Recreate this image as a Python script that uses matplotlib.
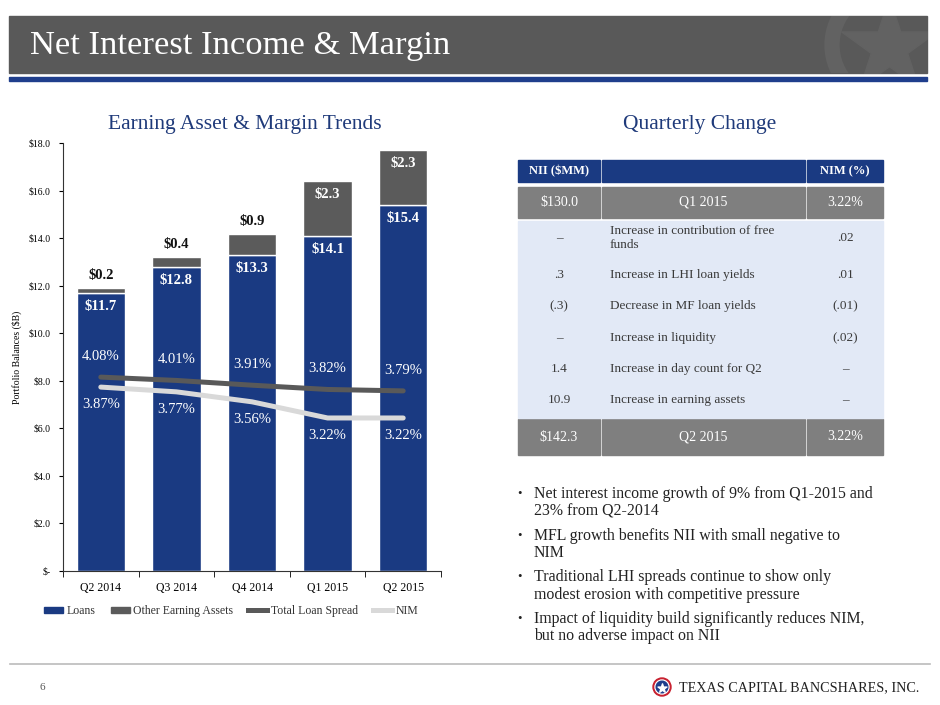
import matplotlib
matplotlib.use("Agg")
import matplotlib.pyplot as plt
from matplotlib.patches import Rectangle, Circle
from matplotlib.lines import Line2D
import numpy as np

plt.rcParams['font.family'] = ['Liberation Serif', 'DejaVu Serif']

# chart data
quarters = ['Q2 2014', 'Q3 2014', 'Q4 2014', 'Q1 2015', 'Q2 2015']
loans = [11.7, 12.8, 13.3, 14.1, 15.4]
other_assets = [0.2, 0.4, 0.9, 2.3, 2.3]
loan_spread = [4.08, 4.01, 3.91, 3.82, 3.79]
nim = [3.87, 3.77, 3.56, 3.22, 3.22]
y_ticks = [0, 2, 4, 6, 8, 10, 12, 14, 16, 18]

# table data
table_header = ['NII ($MM)', '', 'NIM (%)']
start_row = ['$130.0', 'Q1 2015', '3.22%']
end_row = ['$142.3', 'Q2 2015', '3.22%']
nii_changes = ['–', '.3', '(.3)', '–', '1.4', '10.9']
drivers = ['Increase in contribution of free\nfunds', 'Increase in LHI loan yields',
           'Decrease in MF loan yields', 'Increase in liquidity',
           'Increase in day count for Q2', 'Increase in earning assets']
nim_changes = ['.02', '.01', '(.01)', '(.02)', '–', '–']

bullets = ['Net interest income growth of 9% from Q1-2015 and\n23% from Q2-2014',
           'MFL growth benefits NII with small negative to\nNIM',
           'Traditional LHI spreads continue to show only\nmodest erosion with competitive pressure',
           'Impact of liquidity build significantly reduces NIM,\nbut no adverse impact on NII']

BLUE = '#1A3A82'
GRAY = '#5B5B5B'
TITLE_BLUE = '#1F3A7A'
W, H = 940, 705

fig = plt.figure(figsize=(9.4, 7.05), dpi=100)

# background canvas in pixel coordinates
bg = fig.add_axes([0, 0, 1, 1])
bg.set_xlim(0, W)
bg.set_ylim(H, 0)
bg.axis('off')

# title bar
bar = Rectangle((9, 16), 918, 57, color='#595959', zorder=1)
bg.add_patch(bar)
ring = Circle((888, 45), 56, fill=False, lw=11, edgecolor='#626262', zorder=2)
bg.add_patch(ring)
ring.set_clip_path(bar)
star = bg.scatter([889], [47], marker='*', s=5200, color='#626262', zorder=2)
star.set_clip_path(bar)
bg.add_patch(Rectangle((9, 77), 918, 4, color='#1F3E8C', zorder=1))
bg.text(30, 46, 'Net Interest Income & Margin', color='white', fontsize=24.8,
        va='center', ha='left', zorder=3)

bg.text(245, 125, 'Earning Asset & Margin Trends', color=TITLE_BLUE, fontsize=15.5,
        ha='center', va='center')
bg.text(700, 125, 'Quarterly Change', color=TITLE_BLUE, fontsize=15.5,
        ha='center', va='center')

# table
cols = [(518, 600), (602, 805), (807, 883)]
for (x0, x1), txt in zip(cols, table_header):
    bg.add_patch(Rectangle((x0, 160), x1 - x0, 22, color=BLUE))
    bg.text((x0 + x1) / 2, 171, txt, color='white', fontsize=9, fontweight='bold',
            ha='center', va='center')
for ytop, ybot, row in [(187, 218, start_row), (419, 455, end_row)]:
    for (x0, x1), txt in zip(cols, row):
        bg.add_patch(Rectangle((x0, ytop), x1 - x0, ybot - ytop, color='#7F7F7F'))
        bg.text((x0 + x1) / 2, (ytop + ybot) / 2, txt, color='white', fontsize=10,
                ha='center', va='center')
bg.add_patch(Rectangle((518, 221), 365, 197, color='#E2E9F6'))
row_y = [238, 275, 306.5, 338, 369, 400]
for yc, a, b, c in zip(row_y, nii_changes, drivers, nim_changes):
    bg.text(559, yc, a, color='#3A3A3A', fontsize=9.5, ha='center', va='center')
    bg.text(610, yc, b, color='#3A3A3A', fontsize=9.5, ha='left', va='center',
            linespacing=1.15)
    bg.text(845, yc, c, color='#3A3A3A', fontsize=9.5, ha='center', va='center')

# bullets
by = 503
for b in bullets:
    bg.text(519, by - 9, '•', fontsize=9, color='#222222', ha='center', va='center')
    bg.text(534, by, b, fontsize=11.4, color='#222222', ha='left', va='center',
            linespacing=1.12)
    by += 41.5

# footer
bg.plot([10, 930], [664, 664], color='#BBBBBB', lw=1.2)
bg.text(40, 688, '6', fontsize=8, color='#555555', va='center')
bg.add_patch(Circle((662, 687), 9, color='#C8202F'))
bg.add_patch(Circle((662, 687), 7, color='white'))
bg.add_patch(Circle((662, 687), 5.8, color='#1F3E8C'))
bg.scatter([662], [687.5], marker='*', s=45, color='white', zorder=5)
bg.text(679, 688, 'TEXAS CAPITAL BANCSHARES, INC.', fontsize=10.2, color='#222222',
        va='center', ha='left')

# chart
ax = fig.add_axes([63 / W, 134 / H, 378 / W, 427.7 / H])
x = np.arange(len(quarters))
ax.bar(x, loans, width=0.64, color=BLUE, edgecolor='white', linewidth=1, zorder=2)
ax.bar(x, other_assets, bottom=loans, width=0.64, color=GRAY, edgecolor='white',
       linewidth=1, zorder=2)
ax.set_xlim(-0.5, len(quarters) - 0.5)
ax.set_ylim(0, 18)
ax.set_yticks(y_ticks)
ax.set_yticklabels(['$-' if v == 0 else f'${v:.1f}' for v in y_ticks], fontsize=7)
ax.set_xticks(x)
ax.set_xticklabels(quarters, fontsize=8.5)
ax.set_xticks(np.arange(-0.5, len(quarters)), minor=True)
ax.tick_params(axis='x', which='major', length=0, pad=8)
ax.tick_params(axis='x', which='minor', length=4, direction='out')
ax.tick_params(axis='y', length=3, direction='out', pad=6)
for s in ['top', 'right']:
    ax.spines[s].set_visible(False)
ax.spines['left'].set_color('#333333')
ax.spines['bottom'].set_color('#333333')
ax.set_ylabel('Portfolio Balances ($B)', fontsize=7)
ax.yaxis.set_label_coords(-0.108, 0.5)

for i in range(len(quarters)):
    ax.annotate(f'${loans[i]:.1f}', (x[i], loans[i]), xytext=(0, -10),
                textcoords='offset points', ha='center', va='center',
                color='white', fontsize=10.5, fontweight='bold', zorder=4)
    top = loans[i] + other_assets[i]
    if other_assets[i] >= 1.0:
        ax.annotate(f'${other_assets[i]:.1f}', (x[i], top), xytext=(0, -9.5),
                    textcoords='offset points', ha='center', va='center',
                    color='white', fontsize=10.5, fontweight='bold', zorder=4)
    else:
        ax.annotate(f'${other_assets[i]:.1f}', (x[i], top), xytext=(0, 9),
                    textcoords='offset points', ha='center', va='center',
                    color='#111111', fontsize=10.5, fontweight='bold', zorder=4)

ax2 = ax.twinx()
ax2.set_ylim(0, 9)
ax2.axis('off')
ax2.plot(x, loan_spread, color='#595959', lw=3.6, solid_capstyle='round', zorder=3)
ax2.plot(x, nim, color='#D9D9D9', lw=3.6, solid_capstyle='round', zorder=3)
for i in range(len(quarters)):
    ax2.annotate(f'{loan_spread[i]:.2f}%', (x[i], loan_spread[i]), xytext=(0, 15),
                 textcoords='offset points', ha='center', va='center',
                 color='white', fontsize=10.5)
    ax2.annotate(f'{nim[i]:.2f}%', (x[i], nim[i]), xytext=(0, -12.5),
                 textcoords='offset points', ha='center', va='center',
                 color='white', fontsize=10.5)

handles = [Rectangle((0, 0), 1, 1, color=BLUE), Rectangle((0, 0), 1, 1, color=GRAY),
           Line2D([], [], color='#595959', lw=3.6), Line2D([], [], color='#D9D9D9', lw=3.6)]
labels = ['Loans', 'Other Earning Assets', 'Total Loan Spread', 'NIM']
ax.legend(handles, labels, ncol=4, loc='center', bbox_to_anchor=(0.445, -0.094),
          frameon=False, fontsize=8.5, handlelength=1.6, handleheight=0.5,
          handletextpad=0.3, columnspacing=1.3, labelcolor='#333333')

fig.savefig('out.png', dpi=100)
